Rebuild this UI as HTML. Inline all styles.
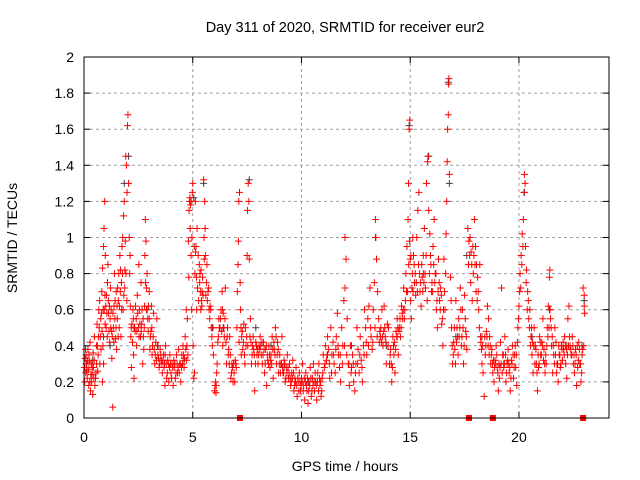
<!DOCTYPE html>
<html><head><meta charset="utf-8"><style>
body{margin:0;background:#fff;}
svg{display:block;font-family:"Liberation Sans",sans-serif;}
</style></head><body>
<svg id="chart" width="640" height="480" xmlns="http://www.w3.org/2000/svg">
<rect width="640" height="480" fill="#fff"/>
<text x="345" y="32" font-size="14.5" text-anchor="middle" fill="#000">Day 311 of 2020, SRMTID for receiver eur2</text>
<text transform="translate(17,238) rotate(-90)" font-size="14" text-anchor="middle" fill="#000">SRMTID / TECUs</text>
<text x="345" y="471" font-size="14" text-anchor="middle" fill="#000">GPS time / hours</text>
<g id="grid"></g>
<g id="ticks"></g>
<g id="grayPts"></g>
<g id="redPts"></g>
<g id="gaps"></g>
<rect x="84" y="57" width="525" height="361" fill="none" stroke="#000" stroke-width="1"/>
</svg>
<script>
const xTicks=[0,5,10,15,20];
const yTicks=[0,0.2,0.4,0.6,0.8,1,1.2,1.4,1.6,1.8,2];
const yTickLabels=["0","0.2","0.4","0.6","0.8","1","1.2","1.4","1.6","1.8","2"];
const gapTimes=[7.17,17.7,18.8,22.95];
const grayPoints=[[0.1,.3],[0.4,.32],[0.9,.45],[1.2,.4],[1.85,1.3],[2.05,1.45],[2.3,.5],[2.9,.6],[3.4,.4],[4.6,.32],[5.05,1.22],[5.5,1.3],[5.9,.5],[6.4,.5],[7.6,1.32],[7.9,.5],[8.6,.4],[9.2,.28],[10.3,.2],[11.2,.35],[12.3,.4],[13.4,1.0],[13.9,.4],[14.4,.45],[14.95,1.62],[15.6,.8],[15.85,1.45],[16.75,1.86],[16.8,1.3],[17.1,.45],[17.6,.9],[18.3,.45],[19.3,.3],[20.25,1.25],[20.6,.45],[21.4,.6],[22.2,.4],[22.9,.4],[23.0,.65]];
const redPoints=[
[0.02,.28],[0.05,.33],[0.08,.25],[0.1,.35],[0.12,.3],[0.15,.22],[0.18,.38],[0.2,.27],[0.22,.18],[0.25,.31],[0.28,.42],[0.3,.15],[0.32,.24],[0.35,.2],[0.38,.28],[0.4,.13],[0.42,.36],[0.45,.22],[0.48,.45],[0.5,.18],
[0.55,.25],[0.58,.3],[0.6,.52],[0.62,.4],[0.65,.35],[0.68,.6],[0.7,.5],[0.72,.65],[0.75,.45],[0.78,.38],[0.8,.58],[0.82,.7],[0.85,.83],[0.88,.6],[0.9,.95],[0.92,1.05],[0.95,1.2],[0.98,.9],[1.0,.62],[0.97,.52],[0.9,.3],[0.85,.2],
[1.02,.5],[1.05,.58],[1.08,.75],[1.1,.85],[1.12,.65],[1.15,.48],[1.18,.42],[1.2,.55],[1.22,.72],[1.25,.6],[1.28,.33],[1.3,.45],[1.32,.06],[1.35,.5],[1.38,.62],[1.4,.8],[1.42,.55],[1.45,.44],[1.48,.7],
[1.5,.38],[1.52,.62],[1.55,.72],[1.58,.65],[1.6,.8],[1.62,.5],[1.65,.9],[1.68,.82],[1.7,.45],[1.72,.75],[1.75,.95],[1.78,1.0],[1.8,.6],[1.82,1.12],[1.85,1.2],[1.88,.82],[1.9,.98],[1.92,1.45],[1.95,1.4],[1.98,1.25],[2.0,1.62],[2.02,1.68],[2.05,1.3],[2.08,1.0],[2.1,.8],[2.12,.9],
[2.15,.45],[2.18,.28],[2.2,.52],[2.25,.6],[2.28,.35],[2.3,.22],[2.35,.48],[2.4,.55],[2.42,.4],[2.45,.68],[2.5,.5],[2.52,.85],[2.55,.6],[2.6,.45],[2.62,.75],[2.65,.52],[2.7,.3],[2.72,.55],[2.75,.38],[2.78,.62],[2.8,.9],[2.82,1.1],[2.85,.98],[2.88,.72],[2.9,.8],[2.95,.48],[3.0,.7],[3.0,.55],
[3.05,.45],[3.1,.62],[3.12,.5],[3.15,.4],[3.2,.58],[3.25,.3],[3.3,.42],[3.35,.55],[3.4,.35],[3.45,.28],[3.5,.38],[3.55,.32],[3.6,.25],[3.65,.35],[3.7,.3],[3.72,.18],[3.75,.4],[3.8,.22],[3.85,.32],[3.9,.2],[3.95,.35],[4.0,.25],
[4.05,.3],[4.1,.18],[4.15,.28],[4.2,.22],[4.25,.35],[4.3,.25],[4.35,.38],[4.4,.3],[4.45,.2],[4.5,.35],[4.55,.4],[4.6,.28],[4.65,.45],[4.7,.6],[4.72,.32],[4.75,.55],[4.8,.98],[4.82,.78],[4.85,1.2],[4.88,1.05],[4.9,1.18],[4.92,.9],[4.95,.6],[4.98,1.25],[5.0,1.3],
[5.02,.4],[5.05,.22],[5.08,.25],[5.1,.8],[5.12,1.2],[5.15,.95],[5.18,.6],[5.2,1.05],[5.25,.9],[5.3,.85],[5.32,.75],[5.35,.7],[5.38,.82],[5.4,.65],[5.42,.62],[5.45,.78],[5.5,1.32],[5.52,1.0],[5.55,1.2],[5.58,.9],[5.6,.68],[5.65,.85],[5.7,.7],[5.75,.6],[5.8,.62],[5.85,.5],[5.9,.4],[5.95,.35],
[6.0,.15],[6.05,.2],[6.08,.18],[6.1,.25],[6.15,.42],[6.2,.55],[6.25,.5],[6.3,.6],[6.35,.7],[6.38,.4],[6.4,.58],[6.45,.45],[6.5,.72],[6.55,.3],[6.6,.5],[6.65,.38],[6.7,.45],[6.75,.22],[6.8,.3],[6.85,.2],[6.9,.25],[6.95,.32],[7.0,.28],
[7.05,.7],[7.08,.85],[7.1,.98],[7.12,1.2],[7.15,1.25],[7.18,.75],[7.2,.6],[7.22,.5],[7.25,.45],[7.3,.38],[7.35,.52],[7.4,.3],[7.45,.4],[7.5,.9],[7.52,1.15],[7.55,1.3],[7.58,1.2],[7.6,.88],[7.65,.55],[7.7,.3],[7.75,.4],[7.8,.38],[7.85,.15],[7.9,.42],[7.95,.35],[8.0,.3],
[8.05,.4],[8.1,.45],[8.15,.35],[8.2,.3],[8.25,.42],[8.3,.25],[8.35,.38],[8.4,.18],[8.45,.32],[8.5,.4],[8.55,.28],[8.6,.35],[8.65,.45],[8.7,.22],[8.75,.38],[8.8,.5],[8.85,.3],[8.9,.42],[8.95,.25],[9.0,.35],
[9.05,.3],[9.1,.45],[9.15,.25],[9.2,.32],[9.25,.2],[9.3,.28],[9.35,.35],[9.4,.22],[9.45,.3],[9.5,.18],[9.55,.25],[9.6,.32],[9.65,.15],[9.7,.22],[9.75,.28],[9.8,.12],[9.85,.2],[9.9,.25],[9.95,.15],[10.0,.22],
[10.05,.3],[10.1,.18],[10.15,.1],[10.2,.25],[10.25,.15],[10.3,.08],[10.35,.2],[10.4,.28],[10.45,.12],[10.5,.22],[10.55,.3],[10.6,.15],[10.65,.2],[10.7,.1],[10.75,.25],[10.8,.3],[10.85,.18],[10.9,.12],[10.95,.22],[11.0,.35],
[11.05,.28],[11.1,.4],[11.15,.32],[11.2,.45],[11.25,.38],[11.3,.22],[11.35,.5],[11.4,.35],[11.45,.42],[11.5,.3],[11.55,.25],[11.6,.45],[11.65,.58],[11.7,.35],[11.75,.28],[11.8,.2],[11.85,.5],[11.9,.4],[11.95,.65],[12.0,.72],
[12.0,1.0],[12.05,.88],[12.1,.55],[12.15,.3],[12.2,.18],[12.25,.4],[12.3,.28],[12.35,.35],[12.4,.2],[12.45,.15],[12.5,.3],[12.55,.5],[12.6,.38],[12.65,.25],[12.7,.45],[12.75,.32],[12.8,.2],[12.85,.4],[12.9,.6],[12.95,.5],[13.0,.35],
[13.05,.55],[13.1,.62],[13.15,.72],[13.2,.45],[13.25,.38],[13.3,.6],[13.35,.75],[13.4,1.1],[13.42,1.0],[13.45,.88],[13.5,.7],[13.55,.55],[13.6,.48],[13.65,.5],[13.7,.6],[13.75,.4],[13.8,.62],[13.85,.45],[13.9,.3],[13.95,.52],[14.0,.5],
[14.05,.3],[14.1,.38],[14.15,.2],[14.2,.45],[14.25,.35],[14.3,.25],[14.35,.48],[14.4,.55],[14.45,.35],[14.5,.5],[14.55,.45],[14.6,.62],[14.65,.55],[14.7,.72],[14.75,.6],[14.8,.8],[14.85,.95],[14.88,.7],[14.9,1.1],[14.92,1.3],[14.95,1.6],[14.98,1.65],[15.0,.88],
[15.02,.65],[15.05,.55],[15.1,.8],[15.12,1.0],[15.15,.9],[15.2,.75],[15.25,.68],[15.3,1.0],[15.35,1.15],[15.38,.85],[15.4,1.25],[15.45,.7],[15.5,.62],[15.55,.78],[15.6,.9],[15.65,1.05],[15.7,.72],[15.75,1.3],[15.8,1.42],[15.82,1.45],[15.85,1.15],[15.9,1.02],[15.95,.85],[16.0,.75],
[16.05,.95],[16.1,1.1],[16.15,.8],[16.2,.6],[16.25,.5],[16.3,.88],[16.35,.65],[16.4,.72],[16.45,.52],[16.5,.4],[16.55,.88],[16.6,.6],[16.65,1.02],[16.68,1.2],[16.7,1.42],[16.72,1.6],[16.75,1.68],[16.77,1.85],[16.78,1.88],[16.8,1.35],[16.85,.78],[16.9,.5],[16.95,.3],[17.0,.42],
[17.05,.38],[17.1,.65],[17.15,.5],[17.2,.35],[17.25,.45],[17.3,.72],[17.35,.4],[17.4,.6],[17.45,.3],[17.5,.68],[17.55,.48],[17.6,.38],[17.65,1.05],[17.7,.98],[17.75,1.0],[17.8,.92],[17.85,.65],[17.9,.8],[17.95,1.1],[18.0,.95],
[18.05,.85],[18.1,.78],[18.15,.6],[18.2,.85],[18.25,.42],[18.3,.3],[18.35,.25],[18.4,.12],[18.45,.35],[18.5,.48],[18.55,.62],[18.6,.55],[18.65,.45],[18.7,.3],[18.75,.38],[18.8,.25],[18.85,.2],[18.9,.32],[18.95,.4],[19.0,.28],
[19.05,.15],[19.1,.22],[19.15,.42],[19.2,.72],[19.25,.35],[19.3,.28],[19.35,.45],[19.4,.2],[19.45,.3],[19.5,.38],[19.55,.25],[19.6,.15],[19.65,.32],[19.7,.4],[19.75,.22],[19.8,.35],[19.85,.28],[19.9,.18],[19.95,.5],[20.0,.62],
[20.05,.8],[20.1,.9],[20.15,1.02],[20.2,1.1],[20.25,1.35],[20.28,1.3],[20.3,.95],[20.35,.82],[20.4,.7],[20.45,.55],[20.5,.6],[20.55,.45],[20.6,.35],[20.65,.25],[20.7,.5],[20.75,.4],[20.8,.3],[20.85,.15],[20.9,.28],[20.95,.45],[21.0,.35],
[21.05,.42],[21.1,.55],[21.15,.38],[21.2,.25],[21.25,.3],[21.3,.5],[21.35,.62],[21.4,.78],[21.42,.82],[21.45,.55],[21.5,.4],[21.55,.25],[21.6,.35],[21.65,.5],[21.7,.42],[21.75,.3],[21.8,.2],[21.85,.35],[21.9,.28],[21.95,.4],[22.0,.32],
[22.05,.38],[22.1,.45],[22.15,.3],[22.2,.22],[22.25,.55],[22.3,.62],[22.35,.4],[22.4,.35],[22.45,.45],[22.5,.3],[22.55,.25],[22.6,.38],[22.65,.18],[22.7,.28],[22.75,.42],[22.8,.3],[22.85,.2],[22.9,.35],[22.95,.72],[23.0,.68],
[23.0,.62],[23.02,.58],[22.98,.4]];
const redPointsExtra=[
[0.03,.2],[0.07,.38],[0.13,.26],[0.17,.32],[0.23,.35],[0.27,.2],[0.33,.3],[0.37,.24],[0.43,.28],[0.47,.32],[0.53,.22],[0.57,.4],[0.63,.26],[0.67,.45],[0.73,.3],[0.77,.55],[0.83,.48],[0.87,.4],[0.93,.6],[0.96,.68],
[1.03,.68],[1.07,.45],[1.13,.58],[1.17,.62],[1.23,.5],[1.27,.48],[1.33,.58],[1.37,.42],[1.43,.65],[1.47,.5],[1.53,.55],[1.57,.45],[1.63,.62],[1.67,.7],[1.73,.6],[1.77,.8],[1.83,.68],[1.87,.72],[1.93,.8],[1.97,.65],
[2.13,.62],[2.17,.5],[2.23,.42],[2.27,.55],[2.33,.5],[2.37,.62],[2.43,.48],[2.47,.58],[2.53,.45],[2.57,.52],[2.63,.48],[2.67,.6],[2.73,.45],[2.77,.5],[2.83,.75],[2.87,.6],[2.93,.55],[2.97,.62],
[3.03,.38],[3.08,.48],[3.13,.35],[3.18,.45],[3.23,.38],[3.28,.35],[3.33,.32],[3.38,.4],[3.43,.33],[3.48,.3],[3.53,.35],[3.58,.3],[3.63,.32],[3.68,.28],[3.73,.35],[3.78,.3],[3.83,.25],[3.88,.3],[3.93,.28],[3.98,.3],
[4.03,.22],[4.08,.28],[4.13,.32],[4.18,.3],[4.23,.25],[4.28,.3],[4.33,.28],[4.38,.25],[4.43,.3],[4.48,.28],[4.53,.3],[4.58,.35],[4.63,.33],[4.68,.38],[4.73,.4],[4.78,.35],[4.83,1.15],[4.87,1.22],[4.93,1.2],[4.96,1.0],
[5.07,.95],[5.13,.92],[5.17,.78],[5.22,.72],[5.27,.65],[5.33,.8],[5.37,.6],[5.43,.7],[5.47,.68],[5.53,.88],[5.57,1.05],[5.63,.75],[5.67,.65],[5.73,.72],[5.78,.55],[5.83,.6],[5.88,.45],[5.93,.5],
[6.03,.18],[6.07,.14],[6.12,.3],[6.18,.45],[6.22,.5],[6.28,.55],[6.33,.48],[6.37,.6],[6.43,.5],[6.48,.55],[6.53,.42],[6.58,.45],[6.63,.35],[6.68,.3],[6.73,.35],[6.78,.25],[6.83,.28],[6.88,.3],[6.93,.2],[6.98,.3],
[7.03,.5],[7.13,.42],[7.23,.35],[7.28,.48],[7.33,.42],[7.38,.35],[7.43,.5],[7.48,.45],[7.53,.4],[7.63,.45],[7.68,.42],[7.73,.35],[7.78,.45],[7.83,.35],[7.88,.3],[7.93,.4],[7.98,.38],
[8.03,.35],[8.08,.38],[8.13,.4],[8.18,.42],[8.23,.35],[8.28,.38],[8.33,.3],[8.38,.4],[8.43,.35],[8.48,.3],[8.53,.35],[8.58,.32],[8.63,.3],[8.68,.38],[8.73,.42],[8.78,.35],[8.83,.45],[8.88,.35],[8.93,.38],[8.98,.3],
[9.03,.25],[9.08,.3],[9.13,.28],[9.18,.25],[9.23,.3],[9.28,.22],[9.33,.25],[9.38,.28],[9.43,.25],[9.48,.22],[9.53,.2],[9.58,.22],[9.63,.25],[9.68,.18],[9.73,.2],[9.78,.18],[9.83,.22],[9.88,.15],[9.93,.2],[9.98,.18],
[10.03,.2],[10.08,.15],[10.13,.22],[10.18,.2],[10.23,.18],[10.28,.22],[10.33,.15],[10.38,.18],[10.43,.22],[10.48,.15],[10.53,.18],[10.58,.2],[10.63,.25],[10.68,.18],[10.73,.2],[10.78,.15],[10.83,.22],[10.88,.2],[10.93,.15],[10.98,.25],
[11.08,.3],[11.18,.35],[11.28,.3],[11.38,.25],[11.48,.35],[11.58,.38],[11.68,.4],[11.78,.35],[11.88,.3],[11.98,.4],
[12.08,.35],[12.18,.3],[12.28,.25],[12.38,.3],[12.48,.25],[12.58,.3],[12.68,.35],[12.78,.28],[12.88,.35],[12.98,.42],
[13.08,.4],[13.18,.5],[13.28,.42],[13.38,.5],[13.48,.45],[13.58,.42],[13.63,.45],[13.68,.42],[13.73,.45],[13.78,.48],[13.83,.5],[13.88,.42],[13.98,.4],
[14.08,.35],[14.13,.3],[14.18,.28],[14.23,.4],[14.28,.42],[14.33,.38],[14.38,.45],[14.43,.5],[14.48,.48],[14.53,.55],[14.58,.5],[14.63,.58],[14.68,.6],[14.73,.55],[14.78,.65],[14.83,.7],[14.93,.85],[14.97,.98],
[15.03,.9],[15.08,.72],[15.13,.7],[15.18,.85],[15.23,.8],[15.28,.75],[15.33,.7],[15.43,.8],[15.48,.75],[15.53,.85],[15.58,.7],[15.63,.75],[15.68,.8],[15.73,.9],[15.78,.65],[15.88,.8],[15.93,.9],[15.98,.7],
[16.03,.7],[16.08,.85],[16.13,.75],[16.18,.8],[16.23,.65],[16.28,.7],[16.33,.75],[16.38,.6],[16.43,.68],[16.48,.55],[16.53,.6],[16.58,.7],[16.63,.8],[16.88,.65],[16.93,.4],[16.98,.35],
[17.03,.5],[17.08,.3],[17.13,.42],[17.18,.45],[17.23,.55],[17.28,.5],[17.33,.6],[17.38,.45],[17.43,.5],[17.48,.4],[17.53,.55],[17.58,.45],[17.68,.85],[17.73,.9],[17.78,.75],[17.83,.85],[17.88,.95],[17.93,.9],[17.98,.85],
[18.03,.7],[18.08,.65],[18.13,.7],[18.18,.5],[18.23,.45],[18.28,.38],[18.33,.4],[18.43,.45],[18.48,.4],[18.53,.45],[18.58,.4],[18.63,.35],[18.68,.4],[18.73,.35],[18.78,.3],[18.83,.32],[18.88,.28],[18.93,.3],[18.98,.35],
[19.03,.25],[19.08,.3],[19.13,.28],[19.18,.3],[19.23,.25],[19.28,.35],[19.33,.3],[19.38,.35],[19.43,.25],[19.48,.32],[19.53,.3],[19.58,.28],[19.63,.22],[19.68,.3],[19.73,.35],[19.78,.28],[19.83,.4],[19.88,.35],[19.93,.42],[19.98,.55],
[20.03,.7],[20.08,.72],[20.13,.85],[20.18,.95],[20.23,1.25],[20.33,.75],[20.38,.6],[20.43,.65],[20.48,.5],[20.53,.4],[20.58,.5],[20.63,.42],[20.68,.4],[20.73,.3],[20.78,.38],[20.83,.25],[20.88,.35],[20.93,.3],[20.98,.42],
[21.03,.35],[21.08,.4],[21.13,.32],[21.18,.3],[21.23,.35],[21.28,.4],[21.33,.45],[21.38,.5],[21.43,.6],[21.48,.5],[21.53,.45],[21.58,.4],[21.63,.3],[21.68,.35],[21.73,.25],[21.78,.3],[21.83,.4],[21.88,.35],[21.93,.3],[21.98,.38],
[22.03,.42],[22.08,.35],[22.13,.4],[22.18,.38],[22.23,.35],[22.28,.4],[22.33,.45],[22.38,.38],[22.43,.35],[22.48,.4],[22.53,.35],[22.58,.3],[22.63,.35],[22.68,.4],[22.73,.32],[22.78,.38],[22.83,.3],[22.88,.25],[22.93,.38]];

const NS="http://www.w3.org/2000/svg";
const X0=84,X1=609,Y0=418,Y1=57,XMAX=24.14,YMAX=2;
function sx(t){return X0+(X1-X0)*t/XMAX;}
function sy(v){return Y0-(Y0-Y1)*v/YMAX;}
function mk(tag,attrs,parent){const e=document.createElementNS(NS,tag);for(const k in attrs)e.setAttribute(k,attrs[k]);parent.appendChild(e);return e;}
const grid=document.getElementById('grid'),ticks=document.getElementById('ticks');
yTicks.forEach((v,i)=>{
  const y=sy(v);
  if(i>0&&i<yTicks.length-1){const g=mk('line',{x1:X0,x2:X1,y1:y,y2:y,stroke:'#a0a0a0','stroke-dasharray':'3,3','stroke-width':1},grid);
  
  }
  mk('line',{x1:X0,x2:X0+6,y1:y,y2:y,stroke:'#000'},ticks);
  mk('line',{x1:X1,x2:X1-6,y1:y,y2:y,stroke:'#000'},ticks);
  const t=mk('text',{x:X0-10,y:y+5,'font-size':14,'text-anchor':'end',fill:'#000'},ticks);
  t.textContent=yTickLabels[i];
  
  
});
xTicks.forEach(v=>{
  const x=sx(v);
  if(v>0){const g=mk('line',{x1:x,x2:x,y1:Y1,y2:Y0,stroke:'#a0a0a0','stroke-dasharray':'3,3','stroke-width':1},grid);
  
  }
  mk('line',{x1:x,x2:x,y1:Y0,y2:Y0-6,stroke:'#000'},ticks);
  mk('line',{x1:x,x2:x,y1:Y1,y2:Y1+6,stroke:'#000'},ticks);
  const t=mk('text',{x:x,y:Y0+24,'font-size':14,'text-anchor':'middle',fill:'#000'},ticks);
  t.textContent=String(v);
  
  
});
function plus(g,t,v,color,name){
  const x=sx(t),y=sy(v);
  const p=mk('path',{d:`M${x-3.5},${y}H${x+3.5}M${x},${y-3.5}V${y+3.5}`,stroke:color,'stroke-width':1,fill:'none'},g);
  
  
}
const gg=document.getElementById('grayPts');
grayPoints.forEach(p=>plus(gg,p[0],p[1],'#404040','gray-point'));
const rg=document.getElementById('redPts');
redPoints.forEach(p=>plus(rg,p[0],p[1],'#ff0000','red-point'));
redPointsExtra.forEach(p=>plus(rg,p[0],p[1],'#ff0000','red-point'));
const gp=document.getElementById('gaps');
gapTimes.forEach(t=>{
  const r=mk('rect',{x:sx(t)-3,y:Y0-3,width:6,height:6,fill:'#ff0000'},gp);
  
  
});
</script>
</body></html>
